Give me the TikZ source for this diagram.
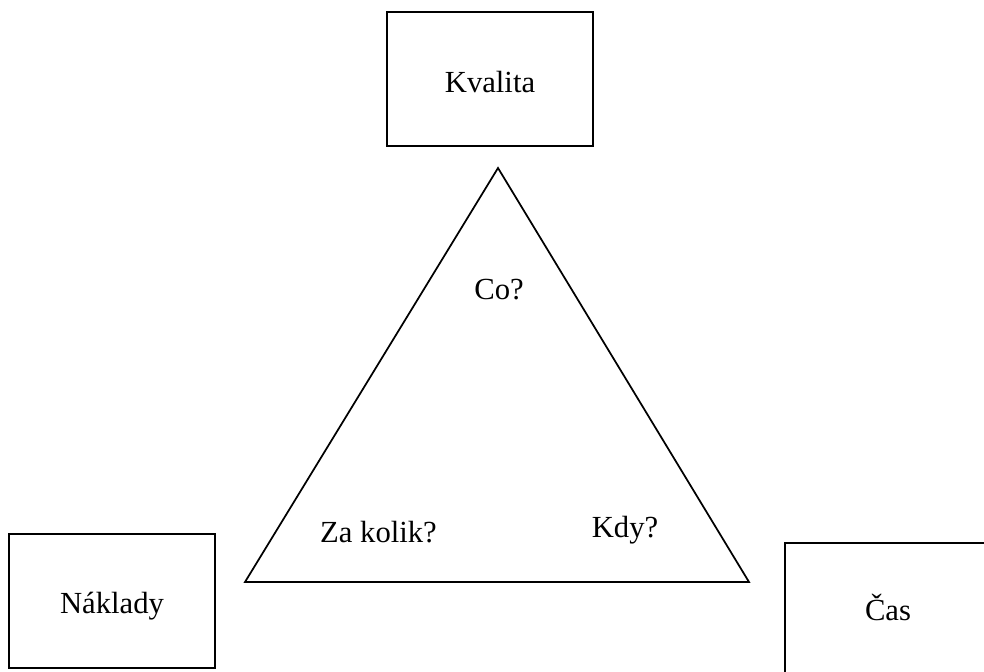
\documentclass[tikz,border=0pt]{standalone}
\usepackage{fontspec}
\setmainfont{Liberation Serif}
\begin{document}
\begin{tikzpicture}[x=0.75pt, y=-0.75pt,
  frame/.style={draw=black, line width=1.3pt, rectangle, inner sep=0pt,
    minimum width=154.5pt, minimum height=100.5pt},
  label/.style={font=\fontsize{23}{27}\selectfont, anchor=base, inner sep=0pt},
  edge/.style={draw=black, line width=1.3pt, line join=miter}]
  \useasboundingbox (0,0) rectangle (984,671);
  \clip (0,0) rectangle (984,671);
  % the three corner boxes
  \node[frame] (qbox) at (490,79) {};
  \node[frame] (cbox) at (112,601) {};
  \node[frame] (tbox) at (888,610) {};
  \node[label] (q) at (490,92) {Kvalita};
  \node[label] (c) at (112,613) {Náklady};
  \node[label] (t) at (888,620) {Čas};
  % the triangle
  \coordinate (apex) at (498,168);
  \coordinate (bl) at (245,582);
  \coordinate (br) at (749,582);
  \draw[edge] (apex) -- (bl) -- (br) -- cycle;
  % questions inside the triangle
  \node[label] (co) at (499,299) {Co?};
  \node[label] (za) at (378.5,542) {Za kolik?};
  \node[label] (kdy) at (625,537) {Kdy?};
\end{tikzpicture}
\end{document}
